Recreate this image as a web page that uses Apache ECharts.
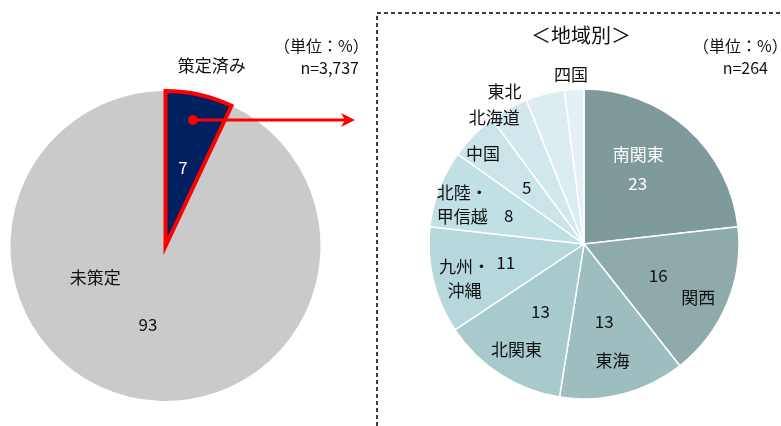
<!DOCTYPE html>
<html>
<head>
<meta charset="utf-8">
<script src="https://cdn.jsdelivr.net/npm/echarts@6/dist/echarts.min.js"></script>
<style>
  html, body { margin: 0; padding: 0; background: #fff; }
  #chart { width: 781px; height: 426px; }
</style>
</head>
<body>
<div id="chart"></div>
<script>
const FONT = '"Noto Sans CJK JP", "Noto Sans", sans-serif';

// 全体（策定状況）
const planNames = ["策定済み", "未策定"];
const planValues = [7, 93];
const planColors = ["#002060", "#cacaca"];

// 地域別
const regionNames = ["南関東", "関西", "東海", "北関東", "九州・\n沖縄", "北陸・\n甲信越", "中国", "北海道", "東北", "四国"];
const regionValues = [23, 16, 13, 13, 11, 8, 5, 4, 4, 2];
const regionShown = ["23", "16", "13", "13", "11", "8", "5", "", "", ""];
const regionColors = ["#7f9a9a", "#8faaaa", "#9ebdbe", "#a9cacc", "#b6d8dc", "#c1e0e4", "#cae4e8", "#d2e8ec", "#dbedf0", "#e3f1f3"];

// 名称ラベルの微調整（px）
const planNameShift = [[19, -58], [-43, -90]];
const regionNameShift = [[-29, 4], [-1, 5], [-3, -4], [0, 0], [2, 5], [-5, 5], [-12, -3], [-29, -17], [-48, -31], [-5, -45]];

const LEFT_C = [165.5, 246];
const RIGHT_C = [584, 244];
const R = 155;

const chart = echarts.init(document.getElementById("chart"));

const ghost = { color: "transparent", borderWidth: 0 };

const planData = planNames.map((n, i) => ({
  name: n,
  value: planValues[i],
  itemStyle: { color: planColors[i], borderWidth: 0 },
  label: { color: i === 0 ? "#fff" : "#111" },
}));

// 策定済みの赤枠（上に重ねて描く）
const planBorder = planNames.map((n, i) => ({
  name: n,
  value: planValues[i],
  itemStyle: i === 0
    ? { color: "transparent", borderColor: "#ff0000", borderWidth: 4, borderJoin: "miter" }
    : ghost,
}));

const regionData = regionNames.map((n, i) => ({
  name: n,
  value: regionValues[i],
  itemStyle: { color: regionColors[i] },
  label: { color: i === 0 ? "#fff" : "#111" },
}));

const option = {
  animation: false,
  textStyle: { fontFamily: FONT },
  series: [
    {
      type: "pie",
      center: LEFT_C,
      radius: [0, R],
      startAngle: 90,
      clockwise: true,
      silent: true,
      z: 2,
      data: planData,
      label: { position: "inside", fontSize: 17, fontFamily: FONT, formatter: (p) => String(p.value) },
      labelLine: { show: false },
      emphasis: { disabled: true },
    },
    {
      type: "pie",
      center: LEFT_C,
      radius: [0, R],
      startAngle: 90,
      clockwise: true,
      silent: true,
      z: 3,
      data: planBorder,
      label: { show: false },
      labelLine: { show: false },
      emphasis: { disabled: true },
    },
    {
      type: "pie",
      center: LEFT_C,
      radius: [0, 244],
      startAngle: 90,
      clockwise: true,
      silent: true,
      z: 4,
      data: planNames.map((n, i) => ({ name: n, value: planValues[i], itemStyle: ghost })),
      label: { position: "inside", fontSize: 17, color: "#111", fontFamily: FONT, formatter: "{b}" },
      labelLine: { show: false },
      labelLayout: (p) => ({ dx: planNameShift[p.dataIndex][0], dy: planNameShift[p.dataIndex][1] }),
      emphasis: { disabled: true },
    },
    {
      type: "pie",
      center: RIGHT_C,
      radius: [0, R],
      startAngle: 90,
      clockwise: true,
      silent: true,
      z: 2,
      data: regionData,
      itemStyle: { borderColor: "#fff", borderWidth: 1.5 },
      label: { position: "inside", fontSize: 17, fontFamily: FONT, formatter: (p) => regionShown[p.dataIndex] },
      labelLine: { show: false },
      emphasis: { disabled: true },
    },
    {
      type: "pie",
      center: RIGHT_C,
      radius: [0, 244],
      startAngle: 90,
      clockwise: true,
      silent: true,
      z: 4,
      data: regionNames.map((n, i) => ({
        name: n,
        value: regionValues[i],
        itemStyle: ghost,
        label: { color: i === 0 ? "#fff" : "#111" },
      })),
      label: { position: "inside", fontSize: 17, lineHeight: 24, fontFamily: FONT, formatter: "{b}" },
      labelLine: { show: false },
      labelLayout: (p) => ({ dx: regionNameShift[p.dataIndex][0], dy: regionNameShift[p.dataIndex][1] }),
      emphasis: { disabled: true },
    },
  ],
  graphic: [
    // 点線の枠
    {
      type: "polyline",
      shape: { points: [[377, 426], [377, 13], [781, 13]] },
      style: { stroke: "#000", lineWidth: 1.5, lineDash: [4, 3], fill: null },
      z: 10,
    },
    // 矢印
    {
      type: "line",
      shape: { x1: 193, y1: 120, x2: 346, y2: 120 },
      style: { stroke: "#ff0000", lineWidth: 3 },
      z: 10,
    },
    {
      type: "circle",
      shape: { cx: 193, cy: 120, r: 5 },
      style: { fill: "#ff0000" },
      z: 10,
    },
    {
      type: "polygon",
      shape: { points: [[355, 120], [341, 113], [345, 120], [341, 127]] },
      style: { fill: "#ff0000" },
      z: 10,
    },
    // テキスト
    { type: "text", left: 531, top: 25, style: { text: "＜地域別＞", font: "20px " + FONT, fill: "#111" } },
    { type: "text", left: 693, top: 38, style: { text: "（単位：%）", font: "16px " + FONT, fill: "#111" } },
    { type: "text", right: 13, top: 60, style: { text: "n=264", font: "16px " + FONT, fill: "#111" } },
    { type: "text", left: 274, top: 38, style: { text: "（単位：%）", font: "16px " + FONT, fill: "#111" } },
    { type: "text", right: 422, top: 60, style: { text: "n=3,737", font: "16px " + FONT, fill: "#111" } },
  ],
};

chart.setOption(option);
</script>
</body>
</html>
